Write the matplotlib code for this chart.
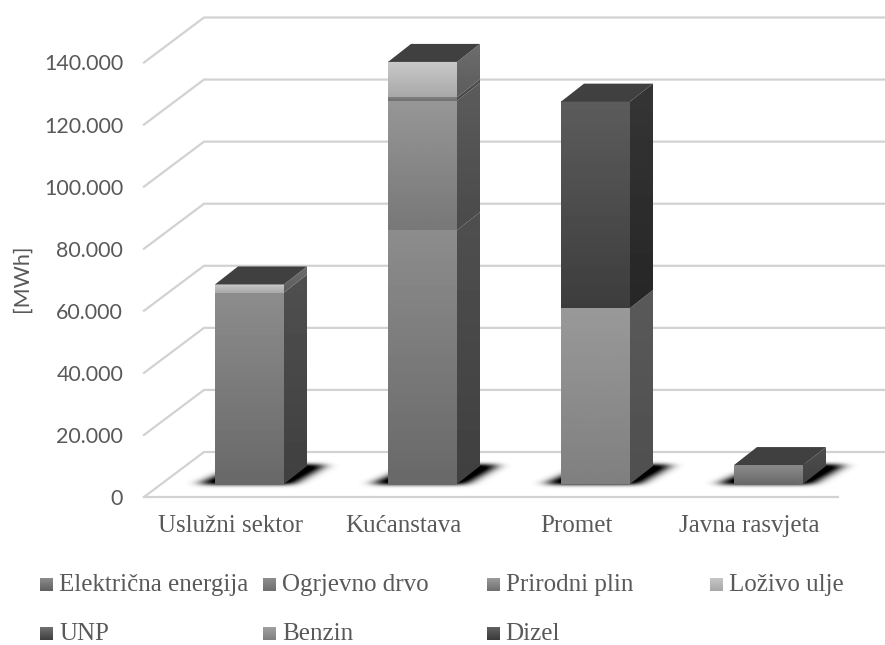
import matplotlib
matplotlib.use('Agg')
import matplotlib.pyplot as plt
from matplotlib.patches import Polygon
import numpy as np

# Vrijednosti ocitane sa slike [MWh]
categories = ['Uslužni sektor', 'Kućanstava', 'Promet', 'Javna rasvjeta']
elektricna = [61700, 81800, 0, 6100]
ogrjevno = [0, 41700, 0, 0]
plin = [0, 1100, 0, 0]
lozivo = [2600, 11400, 0, 0]
unp = [0, 0, 0, 0]
benzin = [0, 0, 56700, 0]
dizel = [0, 0, 66500, 0]
series = [elektricna, ogrjevno, plin, lozivo, unp, benzin, dizel]
series_names = ['Električna energija', 'Ogrjevno drvo', 'Prirodni plin', 'Loživo ulje',
                'UNP', 'Benzin', 'Dizel']
y_ticks = [0, 20000, 40000, 60000, 80000, 100000, 120000, 140000]
y_tick_labels = ['0', '20.000', '40.000', '60.000', '80.000', '100.000', '120.000', '140.000']

# Sive nijanse: vrh prednje strane, dno prednje strane, vrh boka, dno boka
front_top = [0.55, 0.59, 0.50, 0.79, 0.45, 0.60, 0.36]
front_bot = [0.41, 0.47, 0.44, 0.66, 0.27, 0.50, 0.24]
side_top = [0.31, 0.36, 0.30, 0.43, 0.25, 0.35, 0.21]
side_bot = [0.25, 0.29, 0.28, 0.36, 0.20, 0.31, 0.15]
legend_top = [0.56, 0.56, 0.62, 0.78, 0.44, 0.63, 0.38]
legend_bot = [0.38, 0.44, 0.44, 0.66, 0.25, 0.50, 0.23]
roof = 0.25

W, H = 885, 645
TEXT = '#595959'
GRID = '#d2d2d2'
SERIF = 'Liberation Serif'

fig = plt.figure(figsize=(W / 100, H / 100), dpi=100)
ax = fig.add_axes([144 / W, 1 - 497 / H, 692 / W, 434.5 / H])
ax.patch.set_visible(False)
for s in ax.spines.values():
    s.set_visible(False)

# pikseli u jedinice osi
px_x = 1 / 173
px_y = 140000 / 434.5
wall_dx, wall_dy = 60 * px_x, 45 * px_y
bar_dx, bar_dy = 23 * px_x, 18 * px_y
bar_w = 69 * px_x
bar_off = 19 * px_x
base = 13 * px_y
x_end = (885 - 144) * px_x - 0.5
floor_end = (838 - 144) * px_x - 0.5


def gradient(x0, x1, y0, y1, top, bot, clip=None, z=3):
    im = ax.imshow(np.linspace(top, bot, 64)[:, None], cmap='gray', vmin=0, vmax=1,
                   extent=[x0, x1, y0, y1], aspect='auto', interpolation='bilinear',
                   zorder=z, clip_on=clip is not None)
    if clip is not None:
        poly = Polygon(clip, closed=True, transform=ax.transData)
        im.set_clip_path(poly)
        im.set_clip_box(fig.bbox)
    return im


def blur(a, sigma, axis):
    r = int(3 * sigma) + 1
    kernel = np.exp(-0.5 * (np.arange(-r, r + 1) / sigma) ** 2)
    kernel = kernel / kernel.sum()
    return np.apply_along_axis(lambda m: np.convolve(m, kernel, mode='same'), axis, a)


# Maska sjene na podu, u pikselima od donjeg lijevog kuta stupca
u = np.arange(-50, 160)
v = np.arange(-14, 40)
uu, vv = np.meshgrid(u, v)
t = vv / 20
mask = (vv >= 0) & (vv <= 19) & (uu >= -16 + t * 45) & (uu <= 78 + t * 34)
shadow = blur(blur(mask.astype(float), 7, 1), 2, 0)[::-1]
shadow_rgba = np.zeros(shadow.shape + (4,))
shadow_rgba[..., 3] = np.clip(shadow * 1.3, 0, 1)

# Mreza s lijevim zidom
for y in y_ticks:
    ax.plot([-0.5, -0.5 + wall_dx, x_end], [y, y + wall_dy, y + wall_dy],
            color=GRID, lw=1.6, zorder=1, clip_on=False, solid_joinstyle='miter')
ax.plot([-0.5, floor_end], [0, 0], color=GRID, lw=1.6, zorder=1, clip_on=False)

# Stupci
for i in range(len(categories)):
    left = i + bar_off - bar_w / 2
    right = left + bar_w

    ax.imshow(shadow_rgba, aspect='auto', interpolation='bilinear', zorder=2, clip_on=False,
              extent=[left + u[0] * px_x, left + u[-1] * px_x,
                      base + v[0] * px_y, base + v[-1] * px_y])

    bottom = base
    for k, values in enumerate(series):
        val = values[i]
        if val == 0:
            continue
        top = bottom + val
        gradient(left, right, bottom, top, front_top[k], front_bot[k], z=3)
        side = [(right, bottom), (right + bar_dx, bottom + bar_dy),
                (right + bar_dx, top + bar_dy), (right, top)]
        gradient(right, right + bar_dx, bottom, top + bar_dy, side_top[k], side_bot[k],
                 clip=side, z=3)
        bottom = top

    lid = [(left, bottom), (right, bottom), (right + bar_dx, bottom + bar_dy),
           (left + bar_dx, bottom + bar_dy)]
    ax.add_patch(Polygon(lid, closed=True, fc=str(roof), ec='none', zorder=4, clip_on=False))

ax.set_xlim(-0.5, 3.5)
ax.set_ylim(0, 140000)
ax.set_yticks(y_ticks, y_tick_labels, fontfamily='Lato', fontsize=15.4, color=TEXT)
ax.set_xticks(range(len(categories)), categories, fontfamily=SERIF,
              fontsize=18, color=TEXT)
ax.tick_params(axis='y', length=0, pad=15)
ax.tick_params(axis='x', length=0, pad=13)
fig.text(22 / W, 1 - 278 / H, '[MWh]', rotation=90, ha='center', va='center',
         fontfamily='Lato', fontsize=15.5, color=TEXT)

# Legenda u dva reda, stupci jednake sirine
for k, name in enumerate(series_names):
    col = k % 4
    row = k // 4
    lx = 40 + col * 223.3
    ly = 584 + row * 49
    lax = fig.add_axes([lx / W, 1 - (ly + 6.5) / H, 13 / W, 13 / H])
    lax.imshow(np.linspace(legend_top[k], legend_bot[k], 16)[:, None], cmap='gray',
               vmin=0, vmax=1, aspect='auto')
    lax.axis('off')
    fig.text((lx + 19) / W, 1 - (ly + 1.5) / H, name, ha='left', va='center',
             fontfamily=SERIF, fontsize=18, color=TEXT)

fig.savefig('out.png', dpi=100)
